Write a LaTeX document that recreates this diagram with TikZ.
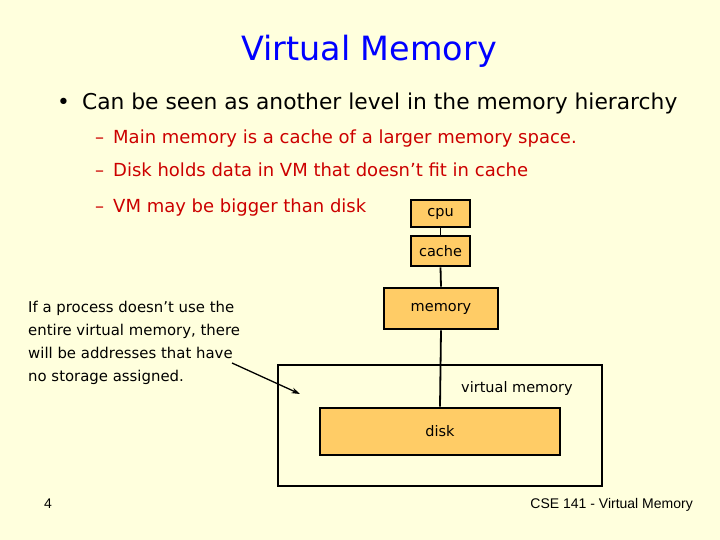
\documentclass[tikz,border=0pt]{standalone}
\usepackage{fontspec}
\setmainfont{DejaVu Sans}
\newfontfamily\footfont{Liberation Sans}
\usepackage{tikz}
\usetikzlibrary{positioning,arrows.meta}
\definecolor{slidebg}{RGB}{255,255,221}
\definecolor{boxfill}{RGB}{255,204,102}
\definecolor{titleblue}{RGB}{0,0,255}
\definecolor{subred}{RGB}{204,0,0}
\tikzset{
  level/.style={rectangle,draw=black,line width=2.6pt,fill=boxfill,inner sep=0pt,font=\fontsize{14.5}{16}\selectfont},
  frame/.style={rectangle,draw=black,line width=2.8pt,inner sep=0pt},
  link/.style={line width=1.8pt},
  pointer/.style={-{Stealth[length=3mm,width=2mm]},line width=1.3pt},
  bullettext/.style={anchor=base west,inner sep=0pt,font=\fontsize{21.8}{24}\selectfont},
  subtext/.style={anchor=base west,inner sep=0pt,text=subred,font=\fontsize{18}{20}\selectfont}
}

\begin{document}
\begin{tikzpicture}[x=1pt,y=-1pt]
  \fill[slidebg] (0,0) rectangle (720,540);
  \useasboundingbox (0,0) rectangle (720,540);
  \node[text=titleblue,font=\fontsize{33.4}{38}\selectfont,anchor=base] (title) at (369,61) {Virtual Memory};
  \node[bullettext] (b1) at (57,110) {\textbullet\hspace{12pt}Can be seen as another level in the memory hierarchy};
  \node[subtext] (s1) at (95,144) {--\hspace{9pt}Main memory is a cache of a larger memory space.};
  \node[subtext] (s2) at (95,177) {--\hspace{9pt}Disk holds data in VM that doesn’t fit in cache};
  \node[subtext] (s3) at (95,212) {--\hspace{9pt}VM may be bigger than disk};
  % memory hierarchy boxes
  \node[frame,minimum width=324pt,minimum height=121pt] (vm) at (440,425.5) {};
  \node[anchor=base,inner sep=0pt,font=\fontsize{14.5}{16}\selectfont] (vmlabel) at (517,392) {virtual memory};
  \node[level,minimum width=59pt,minimum height=27pt] (cpu) at (440.5,213.5) {cpu};
  \node[level,minimum width=59pt,minimum height=30pt] (cache) at (440.5,251) {cache};
  \node[level,minimum width=114pt,minimum height=41pt] (memory) at (441,308.5) {memory};
  \node[level,minimum width=240pt,minimum height=47pt] (disk) at (440,431.5) {disk};
  \draw[link] (cpu.south) -- (cache.north);
  \draw[link] (cache.south) -- (memory.north);
  \draw[link] (memory.south) -- (disk.north);
  % note about unused addresses
  \node[anchor=north west,align=left,inner sep=0pt,font=\fontsize{14.9}{23}\selectfont] (note) at (28,301)
    {If a process doesn’t use the\\entire virtual memory, there\\will be addresses that have\\no storage assigned.};
  \coordinate (noteend) at (232,363);
  \coordinate (hole) at (300,394);
  \draw[pointer] (noteend) -- (hole);
  % footer
  \node[anchor=base,inner sep=0pt,font=\footfont\fontsize{14}{16}\selectfont] (pagenum) at (48,508) {4};
  \node[anchor=base east,inner sep=0pt,font=\footfont\fontsize{14}{16}\selectfont] (footer) at (693,508) {CSE 141 - Virtual Memory};
\end{tikzpicture}
\end{document}
